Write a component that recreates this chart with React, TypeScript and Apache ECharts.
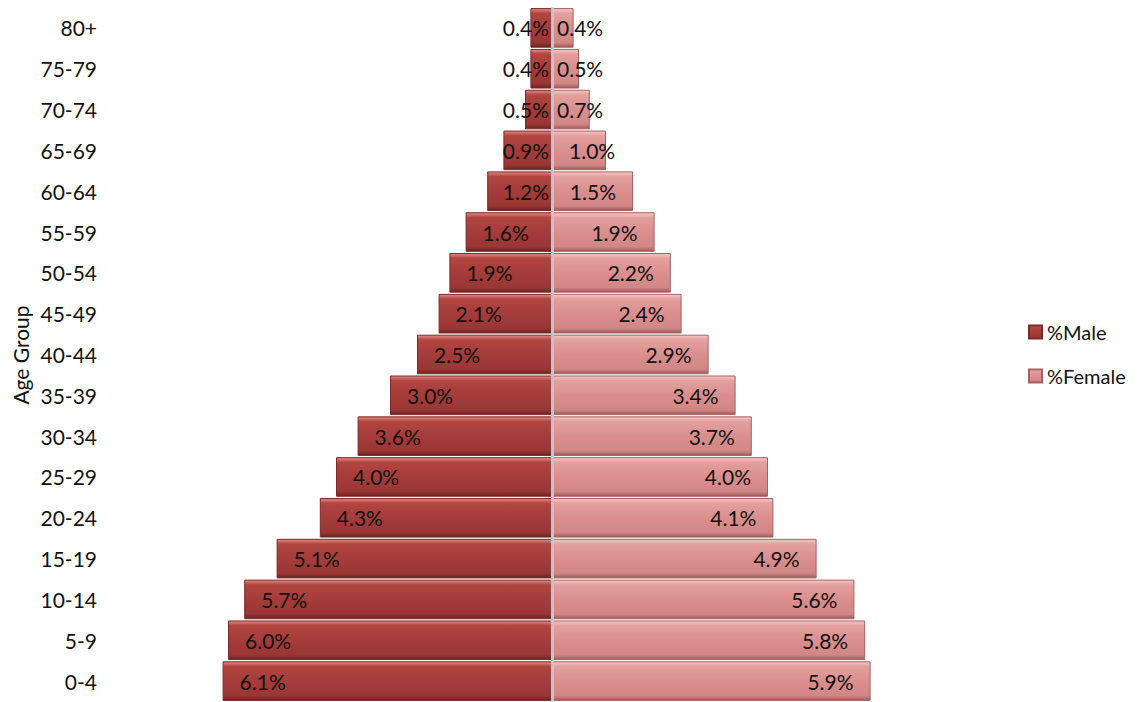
import React, { useEffect, useRef } from 'react';
import * as echarts from 'echarts';

const ageGroups = ['0-4', '5-9', '10-14', '15-19', '20-24', '25-29', '30-34', '35-39', '40-44', '45-49', '50-54', '55-59', '60-64', '65-69', '70-74', '75-79', '80+'];
const malePct = [6.1, 6.0, 5.7, 5.1, 4.3, 4.0, 3.6, 3.0, 2.5, 2.1, 1.9, 1.6, 1.2, 0.9, 0.5, 0.4, 0.4];
const femalePct = [5.9, 5.8, 5.6, 4.9, 4.1, 4.0, 3.7, 3.4, 2.9, 2.4, 2.2, 1.9, 1.5, 1.0, 0.7, 0.5, 0.4];
const seriesNames = ['%Male', '%Female'];
const axisTitle = 'Age Group';

const FONT = 'Lato, "Open Sans", sans-serif';

export default function App() {
  const ref = useRef<HTMLDivElement>(null);
  useEffect(() => {
    document.body.style.margin = '0';
    if (!ref.current) return;
    const chart = echarts.init(ref.current, null, { renderer: 'svg' });

    const maleGrad = new echarts.graphic.LinearGradient(0, 0, 0, 1, [
      { offset: 0, color: '#e38a86' },
      { offset: 0.12, color: '#b2453f' },
      { offset: 0.5, color: '#a43c3a' },
      { offset: 0.88, color: '#9a3634' },
      { offset: 1, color: '#6b2321' },
    ]);
    const femaleGrad = new echarts.graphic.LinearGradient(0, 0, 0, 1, [
      { offset: 0, color: '#f8c7c5' },
      { offset: 0.12, color: '#e3a09e' },
      { offset: 0.5, color: '#da8f8e' },
      { offset: 0.88, color: '#d18785' },
      { offset: 1, color: '#9a5a59' },
    ]);

    const maleData = malePct.map((v) => {
      const item: any = { value: -v };
      if (v <= 1.2) item.label = { position: 'insideRight', distance: 3 };
      return item;
    });
    const femaleData = femalePct.map((v) => {
      const item: any = { value: v };
      if (v <= 0.7) item.label = { position: 'insideLeft', distance: 5 };
      else if (v <= 1.0) item.label = { position: 'insideLeft', distance: 17 };
      return item;
    });

    const labelStyle = {
      show: true,
      color: '#111',
      fontFamily: FONT,
      fontSize: 21,
      formatter: (p: any) => Math.abs(p.value).toFixed(1) + '%',
    };

    chart.setOption({
      animation: false,
      backgroundColor: '#ffffff',
      textStyle: { fontFamily: FONT },
      grid: { left: 174, right: 212, top: 7.5, bottom: 0.5, containLabel: false },
      legend: {
        orient: 'vertical',
        left: 1028,
        top: 322,
        padding: 0,
        itemGap: 24,
        itemWidth: 13,
        itemHeight: 13,
        icon: 'rect',
        textStyle: { fontFamily: FONT, fontSize: 20, color: '#111' },
        data: seriesNames,
      },
      xAxis: {
        type: 'value',
        min: -7,
        max: 7,
        show: false,
      },
      yAxis: {
        type: 'category',
        data: ageGroups,
        axisLine: { show: false, onZero: false },
        axisTick: { show: false },
        axisLabel: { fontFamily: FONT, fontSize: 21, color: '#111', margin: 77 },
      },
      graphic: [
        {
          type: 'text',
          x: 20,
          y: 355,
          rotation: Math.PI / 2,
          style: {
            text: axisTitle,
            fontFamily: FONT,
            fontSize: 21,
            fill: '#111',
            align: 'center',
            verticalAlign: 'middle',
          },
        },
      ],
      series: [
        {
          name: seriesNames[0],
          type: 'bar',
          stack: 'pop',
          barCategoryGap: '3%',
          data: maleData,
          itemStyle: { color: maleGrad, borderColor: '#7a2a28', borderWidth: 1 },
          label: { ...labelStyle, position: 'insideLeft', distance: 17 },
        },
        {
          name: seriesNames[1],
          type: 'bar',
          stack: 'pop',
          barCategoryGap: '3%',
          data: femaleData,
          itemStyle: { color: femaleGrad, borderColor: '#a56261', borderWidth: 1 },
          label: { ...labelStyle, position: 'insideRight', distance: 17 },
          markLine: {
            silent: true,
            symbol: 'none',
            label: { show: false },
            lineStyle: { color: '#c4c4c4', width: 3, type: 'solid' },
            data: [{ xAxis: 0 }],
          },
        },
      ],
    });
    return () => chart.dispose();
  }, []);
  return <div ref={ref} style={{ width: 1142, height: 702 }} />;
}
